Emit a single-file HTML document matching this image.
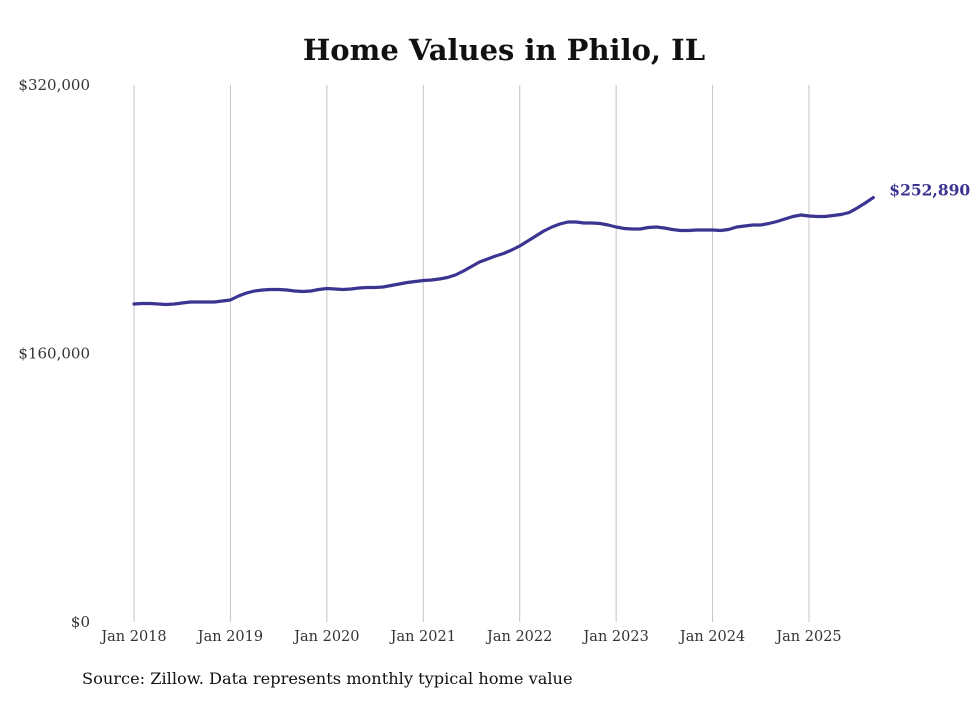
<!DOCTYPE html>
<html><head><meta charset="utf-8"><style>
body{margin:0;background:#fff;}
svg text{font-family:"DejaVu Serif","Liberation Serif",serif;}
</style></head><body>
<svg id="chart" width="980" height="699">
<text x="504" y="60" text-anchor="middle" font-size="29" font-weight="bold" fill="#111">Home Values in Philo, IL</text>
<g id="grid"></g><g id="yticks"></g><g id="xticks"></g><g id="series"></g>
<text x="82" y="684" font-size="16.2" fill="#111">Source: Zillow. Data represents monthly typical home value</text>
</svg>
<script>
const yTickValues=[0,160000,320000];
const yTickLabels=["$0","$160,000","$320,000"];
const xTickLabels=["Jan 2018","Jan 2019","Jan 2020","Jan 2021","Jan 2022","Jan 2023","Jan 2024","Jan 2025"];
const xTickMonths=[0,12,24,36,48,60,72,84];
const values=[189500,189790,189790,189500,189200,189500,190100,190690,190690,190690,190690,191290,
191880,194270,196050,197240,197840,198140,198140,197840,197240,196950,197240,198140,
198730,198440,198140,198440,199030,199330,199330,199630,200520,201420,202310,202910,
203500,203800,204390,205290,206780,209160,211840,214520,216310,218100,219590,221670,
224060,227040,230020,233000,235380,237170,238360,238360,237770,237770,237470,236570,
235380,234490,234190,234190,235080,235380,234780,233890,233300,233300,233590,233590,
233590,233300,233890,235380,235980,236570,236570,237470,238660,240150,241640,242530,
241940,241640,241640,242230,242830,244020,246700,249680,252890];
const lastLabel="$252,890";
const NS="http://www.w3.org/2000/svg";
const x=m=>134+m*(675/84);
const y=v=>622-v*(537/320000);
function mk(t,a,p){const e=document.createElementNS(NS,t);for(const k in a)e.setAttribute(k,a[k]);p.appendChild(e);return e;}
const grid=document.getElementById('grid'),yt=document.getElementById('yticks'),xt=document.getElementById('xticks'),se=document.getElementById('series');
xTickMonths.forEach((m,i)=>{
 const l=mk('line',{x1:x(m),x2:x(m),y1:85,y2:622,stroke:'#c4c4c4','stroke-width':1},grid);
 
 
 const t=mk('text',{x:x(m),y:641,'text-anchor':'middle','font-size':14.5,fill:'#333'},xt);
 t.textContent=xTickLabels[i];
 
 
});
yTickValues.forEach((v,i)=>{
 const t=mk('text',{x:90,y:y(v)+5,'text-anchor':'end','font-size':15,fill:'#333'},yt);
 t.textContent=yTickLabels[i];
 
 
});
const d=values.map((v,i)=>(i?'L':'M')+x(i).toFixed(1)+','+y(v).toFixed(1)).join('');
const p=mk('path',{d:d,fill:'none',stroke:'#3b3491','stroke-width':3.2,'stroke-linejoin':'round','stroke-linecap':'round'},se);


const n=values.length-1;
const lt=mk('text',{x:x(n)+16,y:y(values[n])-2,'font-size':15.5,'font-weight':'bold',fill:'#3b3491'},se);
lt.textContent=lastLabel;


</script>
</body></html>
